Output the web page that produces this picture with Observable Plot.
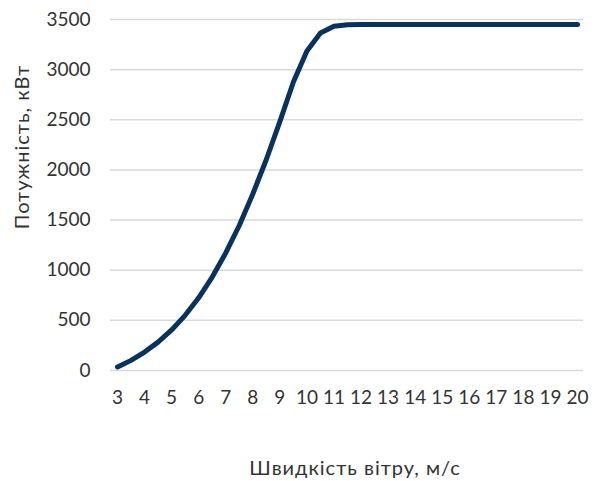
<!DOCTYPE html>
<html>
<head>
<meta charset="utf-8">
<script src="https://cdn.jsdelivr.net/npm/d3@7"></script>
<script src="https://cdn.jsdelivr.net/npm/@observablehq/plot@0.6"></script>
<style>
  html, body { margin: 0; padding: 0; background: #fff; }
  svg { display: block; }
</style>
</head>
<body>
<div id="chart"></div>
<script>
// Wind turbine power curve: output power (kW) vs wind speed (m/s)
const windSpeed = [3, 3.5, 4, 4.5, 5, 5.5, 6, 6.5, 7, 7.5, 8, 8.5, 9, 9.5, 10, 10.5, 11, 11.5,
  12, 12.5, 13, 13.5, 14, 14.5, 15, 15.5, 16, 16.5, 17, 17.5, 18, 18.5, 19, 19.5, 20];
const powerKW = [35, 101, 184, 283, 404, 550, 725, 932, 1172, 1446, 1760, 2104, 2482, 2877, 3187, 3366, 3433, 3448,
  3450, 3450, 3450, 3450, 3450, 3450, 3450, 3450, 3450, 3450, 3450, 3450, 3450, 3450, 3450, 3450, 3450];

const xTicks = [3, 4, 5, 6, 7, 8, 9, 10, 11, 12, 13, 14, 15, 16, 17, 18, 19, 20];
const yTicks = [0, 500, 1000, 1500, 2000, 2500, 3000, 3500];

const xTitle = "Швидкість вітру, м/с";
const yTitle = "Потужність, кВт";

const curve = windSpeed.map((s, i) => ({speed: s, power: powerKW[i]}));

const chart = Plot.plot({
  width: 605,
  height: 481,
  marginLeft: 110,
  marginRight: 22,
  marginTop: 19,
  marginBottom: 111,
  style: {fontFamily: "Lato, 'Open Sans', sans-serif", fontSize: "19px", color: "#333", background: "#fff"},
  x: {domain: [3, 20], insetLeft: 7, insetRight: 6},
  y: {domain: [0, 3500]},
  marks: [
    Plot.ruleY(yTicks, {stroke: "#d9d9d9", strokeWidth: 1.5}),
    Plot.axisX(xTicks, {tickSize: 0, tickPadding: 20, label: null, fontSize: 19, tickFormat: "d"}),
    Plot.axisY(yTicks, {tickSize: 0, tickPadding: 20, label: null, fontSize: 19, tickFormat: "d"}),
    Plot.line(curve, {
      x: "speed", y: "power",
      stroke: "#0b315e", strokeWidth: 5,
      strokeLinecap: "round", strokeLinejoin: "round"
    }),
    Plot.text([xTitle], {text: d => d, frameAnchor: "bottom", textAnchor: "middle", lineAnchor: "middle",
      dx: 8, dy: 98, fontSize: 20, fill: "#333"}),
    Plot.text([yTitle], {text: d => d, frameAnchor: "left", textAnchor: "middle", lineAnchor: "middle",
      rotate: -90, dx: -88, dy: -48, fontSize: 20, fill: "#333"})
  ]
});

// widen the axis titles a little to suit a wider typeface
chart.querySelectorAll("text").forEach(t => {
  if (t.textContent === xTitle || t.textContent === yTitle) t.setAttribute("letter-spacing", "1");
});

document.getElementById("chart").appendChild(chart);
</script>
</body>
</html>
